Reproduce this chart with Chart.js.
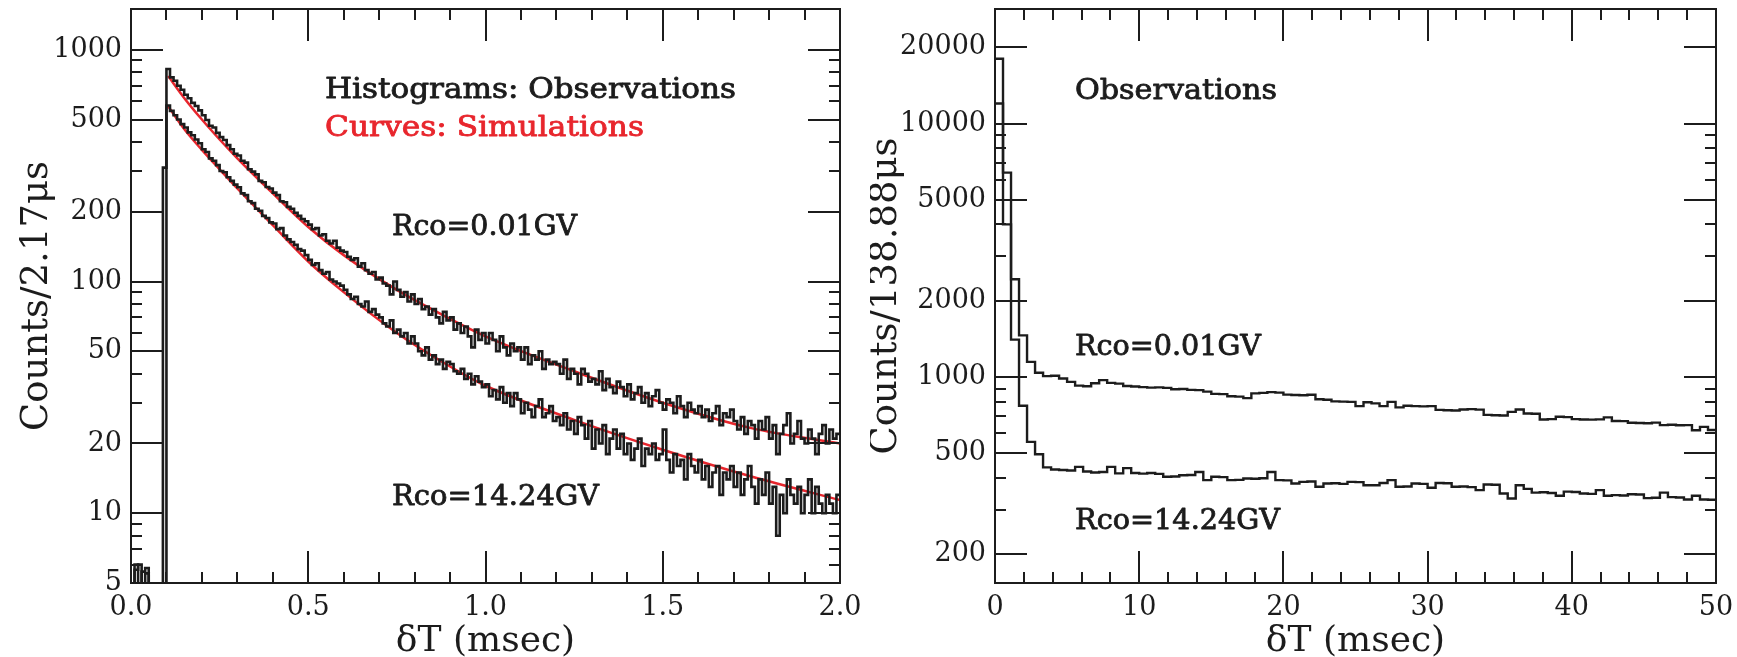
<!DOCTYPE html>
<html lang="en">
<head>
<meta charset="UTF-8">
<title>Delta T distributions</title>
<script src="https://cdn.jsdelivr.net/npm/chart.js"></script>
<style>
  html, body { margin: 0; padding: 0; background: #fff; }
  body { width: 1737px; height: 657px; position: relative; overflow: hidden; }
  canvas { position: absolute; top: 0; }
  #left { left: 0; }
  #right { left: 870px; }
</style>
</head>
<body>
<canvas id="left" width="870" height="657"></canvas>
<canvas id="right" width="867" height="657"></canvas>
<script>
// ---- left panel: 0 - 2 msec, bins of 0.01 msec, one row per 0.1 msec ----
const leftBinWidth = 0.01;
const obsLeft001 = [   // Rco=0.01GV, observed
  0, 6, 0, 5.6, 5.8, 0, 0, 0, 0, 0,
  826, 760, 735, 700, 672, 640, 618, 590, 572, 548,
  522, 498, 470, 462, 438, 420, 408, 388, 372, 356,
  350, 332, 326, 305, 298, 290, 272, 268, 256, 252,
  242, 236, 222, 220, 210, 206, 198, 192, 186, 182,
  176, 168, 170, 158, 160, 150, 146, 150, 140, 136,
  134, 128, 124, 126, 116, 120, 112, 108, 110, 102,
  104, 98, 96, 88, 100, 92, 86, 90, 82, 88,
  80, 84, 76, 78, 72, 76, 70, 66, 74, 68,
  70, 62, 66, 60, 64, 58, 52, 62, 56, 60,
  54, 60, 56, 50, 58, 52, 48, 54, 50, 52,
  46, 52, 44, 48, 46, 50, 42, 46, 44, 45,
  44, 40, 46, 38, 42, 40, 36, 42, 40, 37,
  38, 36, 41, 34, 38, 35, 33, 37, 35, 32,
  36, 31, 33, 35, 30, 33, 29, 32, 34, 30,
  28, 31, 30, 27, 32, 29, 26, 30, 28, 27,
  29, 26, 28, 25, 27, 29, 24, 27, 26, 28,
  25, 23, 26, 22, 25, 24, 21, 25, 23, 26,
  21, 24, 18, 22, 24, 27, 20, 22, 25, 21,
  20, 23, 21, 18, 22, 24, 20, 23, 21, 22
];
const obsLeft1424 = [  // Rco=14.24GV, observed
  0, 5.7, 6, 0, 5.5, 0, 0, 0, 0, 310,
  575, 545, 522, 500, 478, 462, 440, 428, 410, 395,
  372, 362, 340, 332, 318, 300, 296, 282, 272, 262,
  255, 240, 236, 222, 218, 206, 202, 192, 188, 180,
  178, 168, 170, 158, 152, 148, 144, 138, 136, 130,
  124, 118, 120, 112, 108, 110, 102, 100, 98, 96,
  92, 88, 84, 86, 80, 78, 82, 74, 76, 72,
  70, 66, 64, 68, 60, 62, 58, 60, 54, 58,
  54, 50, 48, 52, 46, 48, 44, 46, 42, 45,
  44, 41, 40, 42, 38, 40, 36, 39, 37, 35,
  36, 32, 34, 31, 35, 30, 33, 29, 33, 31,
  27, 30, 28, 26, 29, 31, 26, 27, 29, 25,
  26, 24, 27, 23, 25, 22, 26, 24, 21, 25,
  19, 23, 20, 24, 18, 21, 23, 19, 22, 18,
  20, 17, 19, 21, 16, 19, 18, 20, 17, 18,
  23, 17, 15, 18, 16, 17, 14, 18, 16, 15,
  17, 14, 16, 13, 15, 16, 12, 15, 14, 16,
  13, 15, 12, 14, 16, 13, 11, 14, 12, 15,
  11, 13, 8, 12, 10, 14, 12, 11, 13, 10,
  12, 14, 10, 13, 11, 10, 12, 11, 10, 12
];
// simulated curves (red)
const simX = [0.105, 0.15, 0.2, 0.25, 0.3, 0.4, 0.5, 0.6, 0.75, 0.9, 1.0, 1.25, 1.5, 1.75, 2.0];
const simLeft001 = [770, 620, 500, 410, 340, 240, 172, 130, 92, 69, 58, 41, 30, 23.3, 20];
const simLeft1424 = [570, 455, 370, 305, 252, 175, 122, 90, 60, 43, 35.5, 25.3, 18.8, 14.4, 11.4];

// ---- right panel: 0 - 50 msec, bins of 4 x 138.88 us ----
const rightBinWidth = 50 / 90;
const obsRight001 = [
  18000, 6400, 2430, 1460, 1148, 1039, 1008, 1012, 987, 957,
  925, 920, 945, 972, 948, 942, 922, 918, 912, 908,
  910, 906, 895, 897, 890, 888, 876, 858, 856, 840,
  837, 826, 862, 866, 872, 868, 852, 850, 848, 851,
  817, 814, 802, 800, 798, 768, 795, 787, 768, 798,
  759, 770, 768, 766, 768, 742, 740, 738, 745, 747,
  744, 709, 707, 705, 729, 745, 718, 716, 680, 682,
  697, 695, 682, 680, 679, 681, 693, 671, 670, 660,
  659, 657, 661, 646, 648, 645, 646, 617, 636, 618
];
const obsRight1424 = [
  12000, 4000, 1405, 770, 555, 496, 440, 432, 430, 428,
  442, 424, 420, 422, 442, 417, 437, 418, 416, 418,
  415, 404, 405, 410, 411, 422, 392, 404, 403, 392,
  393, 398, 397, 399, 422, 392, 391, 380, 386, 387,
  369, 380, 381, 379, 386, 385, 374, 374, 382, 392,
  369, 370, 380, 379, 366, 382, 381, 369, 370, 368,
  358, 377, 376, 347, 332, 374, 362, 350, 351, 349,
  340, 353, 352, 347, 346, 358, 340, 342, 341, 345,
  344, 333, 334, 350, 336, 335, 329, 340, 329, 328
];

// axis ticks
const leftXMajor = [0, 0.5, 1, 1.5, 2];
const leftXMinor = [0.1, 0.2, 0.3, 0.4, 0.6, 0.7, 0.8, 0.9, 1.1, 1.2, 1.3, 1.4, 1.6, 1.7, 1.8, 1.9];
const leftYMajor = [5, 10, 20, 50, 100, 200, 500, 1000];
const leftYMinor = [6, 7, 8, 9, 30, 40, 60, 70, 80, 90, 300, 400, 600, 700, 800, 900];
const rightXMajor = [0, 10, 20, 30, 40, 50];
const rightXMinor = [2, 4, 6, 8, 12, 14, 16, 18, 22, 24, 26, 28, 32, 34, 36, 38, 42, 44, 46, 48];
const rightYMajor = [200, 500, 1000, 2000, 5000, 10000, 20000];
const rightYMinor = [300, 400, 600, 700, 800, 900, 3000, 4000, 6000, 7000, 8000, 9000];

const ink = '#1c1c1c';
const red = '#e8262d';
const serif = '"DejaVu Serif", serif';

// histogram points at left bin edges + closing edge; log axis can't show 0 -> push below frame
function steps(values, width) {
  const pts = values.map((v, i) => ({ x: i * width, y: v > 0 ? v : 1 }));
  pts.push({ x: values.length * width, y: pts[pts.length - 1].y });
  return pts;
}

const framePlugin = {
  id: 'frame',
  afterDatasetsDraw(chart, args, opts) {
    const { ctx, chartArea: a } = chart;
    const x = chart.scales.x, y = chart.scales.y;
    ctx.save();
    ctx.strokeStyle = ink;
    ctx.lineWidth = 2;
    ctx.beginPath();
    [[opts.xMajor, 32], [opts.xMinor, 11]].forEach(([vals, len]) => {
      vals.forEach(v => {
        const p = Math.round(x.getPixelForValue(v));
        ctx.moveTo(p, a.bottom); ctx.lineTo(p, a.bottom - len);
        ctx.moveTo(p, a.top); ctx.lineTo(p, a.top + len);
      });
    });
    [[opts.yMajor, 32], [opts.yMinor, 11]].forEach(([vals, len]) => {
      vals.forEach(v => {
        const p = Math.round(y.getPixelForValue(v));
        ctx.moveTo(a.left, p); ctx.lineTo(a.left + len, p);
        ctx.moveTo(a.right, p); ctx.lineTo(a.right - len, p);
      });
    });
    ctx.stroke();
    ctx.strokeRect(a.left, a.top, a.right - a.left, a.bottom - a.top);

    // annotations, stretched to the width of the original lettering
    ctx.font = '27px ' + serif;
    ctx.textBaseline = 'alphabetic';
    ctx.lineJoin = 'round';
    opts.texts.forEach(t => {
      const w = ctx.measureText(t.text).width;
      ctx.save();
      ctx.translate(t.x, t.y);
      ctx.scale(t.w / w, 1);
      ctx.fillStyle = t.color || ink;
      ctx.strokeStyle = t.color || ink;
      ctx.lineWidth = 0.8;
      ctx.fillText(t.text, 0, 0);
      ctx.strokeText(t.text, 0, 0);
      ctx.restore();
    });
    ctx.restore();
  }
};

function makeChart(id, c) {
  const histo = (data) => ({
    data, borderColor: ink, borderWidth: c.histWidth, stepped: 'before', pointRadius: 0, fill: false
  });
  const curve = (data) => ({
    data, borderColor: red, borderWidth: 2.5, cubicInterpolationMode: 'monotone', pointRadius: 0, fill: false
  });
  return new Chart(document.getElementById(id), {
    type: 'line',
    data: {
      datasets: c.hist.map(histo).concat(c.curves.map(curve))
    },
    plugins: [framePlugin],
    options: {
      responsive: false,
      animation: false,
      devicePixelRatio: 1,
      layout: { padding: { top: 9, right: c.padRight, left: 0, bottom: 0 } },
      plugins: {
        legend: { display: false },
        tooltip: { enabled: false },
        frame: {
          xMajor: c.xMajor, xMinor: c.xMinor, yMajor: c.yMajor, yMinor: c.yMinor, texts: c.texts
        }
      },
      scales: {
        x: {
          type: 'linear',
          min: c.xMin, max: c.xMax,
          grid: { display: false, drawTicks: false },
          border: { display: false },
          afterBuildTicks: s => { s.ticks = c.xMajor.map(v => ({ value: v })); },
          afterFit: s => { s.height = 74; s.paddingLeft = 0; s.paddingRight = 0; },
          ticks: {
            autoSkip: false, maxRotation: 0, padding: 9, color: ink,
            font: { family: serif, size: 27 },
            callback: c.xLabel
          },
          title: {
            display: true, text: 'δT (msec)', color: ink,
            font: { family: serif, size: 36, lineHeight: 0.85 },
            padding: { top: 0, bottom: 0 }
          }
        },
        y: {
          type: 'logarithmic',
          min: c.yMin, max: c.yMax,
          grid: { display: false, drawTicks: false },
          border: { display: false },
          afterBuildTicks: s => { s.ticks = c.yMajor.map(v => ({ value: v })); },
          afterFit: s => { s.width = c.yWidth; s.paddingTop = 0; s.paddingBottom = 0; },
          ticks: {
            autoSkip: false, padding: 9, color: ink,
            font: { family: serif, size: 27, lineHeight: 1 },
            callback: v => String(v)
          },
          title: {
            display: true, text: c.yTitle, color: ink,
            font: { family: serif, size: 37, lineHeight: 0.7 },
            padding: { top: c.yTitlePad, bottom: 0 }
          }
        }
      }
    }
  });
}

const simPts = (vals) => simX.map((x, i) => ({ x, y: vals[i] }));

makeChart('left', {
  hist: [steps(obsLeft001, leftBinWidth), steps(obsLeft1424, leftBinWidth)],
  curves: [simPts(simLeft001), simPts(simLeft1424)],
  histWidth: 2.6,
  xMin: 0, xMax: 2, yMin: 5, yMax: 1500,
  xMajor: leftXMajor, xMinor: leftXMinor, yMajor: leftYMajor, yMinor: leftYMinor,
  xLabel: v => v.toFixed(1),
  yTitle: 'Counts/2.17μs', yTitlePad: 24, yWidth: 131, padRight: 30,
  texts: [
    { text: 'Histograms: Observations', x: 325, y: 98, w: 411 },
    { text: 'Curves: Simulations', x: 325, y: 136, w: 319, color: red },
    { text: 'Rco=0.01GV', x: 392, y: 235, w: 185 },
    { text: 'Rco=14.24GV', x: 392, y: 505, w: 207 }
  ]
});

makeChart('right', {
  hist: [steps(obsRight001, rightBinWidth), steps(obsRight1424, rightBinWidth)],
  curves: [],
  histWidth: 2.4,
  xMin: 0, xMax: 50, yMin: 154, yMax: 28300,
  xMajor: rightXMajor, xMinor: rightXMinor, yMajor: rightYMajor, yMinor: rightYMinor,
  xLabel: v => String(v),
  yTitle: 'Counts/138.88μs', yTitlePad: 3, yWidth: 125, padRight: 21,
  texts: [
    { text: 'Observations', x: 205, y: 99, w: 202 },
    { text: 'Rco=0.01GV', x: 205, y: 355, w: 186 },
    { text: 'Rco=14.24GV', x: 205, y: 529, w: 205 }
  ]
});
</script>
</body>
</html>
